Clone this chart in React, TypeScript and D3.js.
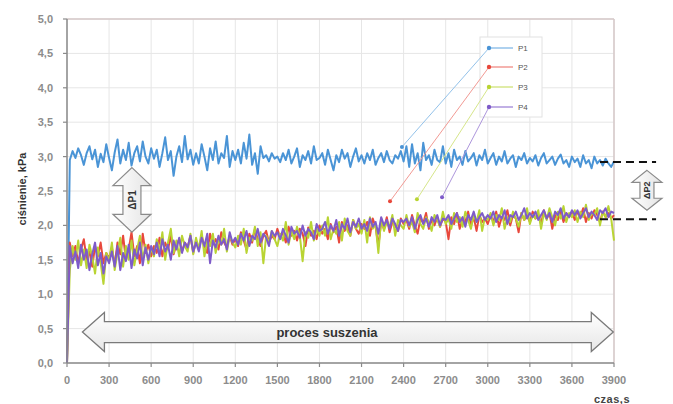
import React from "react";
import * as d3 from "d3";

const STEP = 20; // seconds between samples
const xTicks = [0, 300, 600, 900, 1200, 1500, 1800, 2100, 2400, 2700, 3000, 3300, 3600, 3900];
const yTicks = [0, 0.5, 1, 1.5, 2, 2.5, 3, 3.5, 4, 4.5, 5];
const seriesNames = ["P1", "P2", "P3", "P4"];
const seriesColors = ["#4a94d6", "#e8483c", "#b9d433", "#7e5bc9"];
const leaderColors = ["#93c2ea", "#f29a94", "#d6e68a", "#ad96dc"];

const P1 = [0,
  2.95, 3.08, 2.98, 3.12, 3.02, 2.88, 3.05, 3.15, 2.96, 3.1, 2.85, 3.04, 2.92, 3.18, 2.98,
  2.8, 3.06, 3.25, 2.9, 3.1, 2.95, 3.2, 2.87, 3.05, 3.15, 2.93, 3.22, 3.0, 2.9, 3.12,
  2.97, 3.1, 2.85, 3.05, 3.28, 2.95, 3.08, 2.72, 3.0, 3.15, 2.92, 3.3, 2.96, 3.1, 2.88,
  3.05, 2.9, 3.18, 3.0, 2.8, 3.12, 2.95, 3.22, 2.9, 3.05, 2.98, 3.3, 2.85, 3.08, 2.95,
  3.1, 2.9, 3.2, 2.97, 3.32, 2.88, 3.05, 2.75, 3.15, 2.98, 3.02, 2.93, 3.05, 2.97, 3.0,
  2.92, 3.05, 2.95, 3.1, 2.9, 3.0, 3.12, 2.85, 3.02, 2.95, 3.08, 2.9, 3.15, 2.95, 2.98,
  3.05, 2.88, 3.1, 2.95, 2.8, 3.02, 2.92, 3.1, 2.97, 3.05, 2.85, 3.0, 3.12, 2.93, 3.02,
  2.9, 3.05, 2.95, 3.1, 2.88, 2.98, 3.05, 2.92, 3.08, 2.95, 2.9, 3.02, 2.97, 3.08, 2.93,
  3.15, 2.85, 3.18, 2.9, 3.05, 2.8, 3.2, 2.95, 3.02, 2.88, 3.1, 2.95, 2.92, 3.15, 2.9,
  3.05, 2.85, 3.1, 2.95, 3.0, 2.88, 3.08, 2.93, 2.98, 3.05, 2.87, 3.02, 2.95, 3.1, 2.9,
  2.98, 3.05, 2.88, 3.0, 2.93, 3.08, 2.9, 2.97, 3.02, 2.85, 3.0, 2.95, 3.05, 2.9, 2.98,
  2.93, 3.02, 2.87, 2.98, 3.05, 2.9, 2.95, 3.0, 2.88, 2.97, 3.03, 2.9, 2.95, 2.85, 3.0,
  2.92, 2.97, 2.85, 3.02, 2.9, 2.95, 2.83, 3.0, 2.9, 2.95, 2.87, 2.97, 2.9, 2.85, 2.93];

const P2 = [0,
  1.75, 1.55, 1.7, 1.45, 1.65, 1.8, 1.5, 1.62, 1.4, 1.7, 1.55, 1.75, 1.45, 1.6, 1.52,
  1.68, 1.42, 1.75, 1.58, 1.85, 1.5, 1.65, 1.9, 1.55, 1.7, 1.45, 1.88, 1.6, 1.72, 1.55,
  1.7, 1.6, 1.82, 1.55, 1.75, 1.65, 1.85, 1.58, 1.72, 1.8, 1.62, 1.75, 1.68, 1.85, 1.6,
  1.78, 1.65, 1.85, 1.7, 1.6, 1.88, 1.72, 1.8, 1.65, 1.9, 1.75, 1.68, 1.85, 1.72, 1.8,
  1.7, 1.9, 1.78, 1.65, 1.88, 1.75, 1.95, 1.8, 1.7, 1.85, 1.92, 1.75, 1.85, 1.8, 1.95,
  1.82, 1.9, 1.75, 1.98, 1.85, 1.92, 1.78, 1.95, 1.88, 1.7, 1.97, 1.85, 1.92, 1.8, 2.0,
  1.88, 1.95, 1.8, 2.02, 1.9, 1.98, 1.75, 2.05, 1.92, 2.0, 1.85, 2.08, 1.95, 1.88, 2.02,
  1.95, 2.05, 1.85, 2.1, 1.98, 1.7, 2.05, 1.95, 2.12, 1.9, 2.05, 2.0, 1.92, 2.1, 2.02,
  2.08, 1.95, 2.15, 2.0, 1.88, 2.1, 2.03, 2.18, 1.95, 2.08, 2.0, 2.12, 1.98, 2.1, 2.05,
  1.8, 2.12, 2.02, 2.18, 1.95, 2.1, 2.05, 2.2, 2.0, 2.12, 1.92, 2.15, 2.05, 2.1, 2.02,
  2.15, 2.05, 2.2, 1.98, 2.12, 2.08, 2.22, 2.0, 2.15, 2.1, 1.9, 2.18, 2.08, 2.15, 2.05,
  2.2, 2.1, 2.15, 2.02, 2.22, 2.1, 2.18, 1.95, 2.15, 2.08, 2.2, 2.05, 2.18, 2.12, 2.2,
  2.08, 2.2, 2.12, 2.25, 2.05, 2.18, 2.1, 2.22, 2.15, 2.05, 2.2, 2.12, 2.18, 2.1, 2.15];

const P3 = [0,
  1.35, 1.7, 1.5, 1.78, 1.42, 1.65, 1.38, 1.72, 1.55, 1.3, 1.68, 1.45, 1.15, 1.6, 1.48,
  1.75, 1.35, 1.6, 1.82, 1.4, 1.7, 1.5, 1.78, 1.42, 1.65, 1.85, 1.5, 1.72, 1.45, 1.68,
  1.55, 1.8, 1.62, 1.9, 1.5, 1.75, 1.95, 1.6, 1.78, 1.55, 1.85, 1.7, 1.62, 1.88, 1.58,
  1.82, 1.65, 1.92, 1.55, 1.78, 1.7, 1.88, 1.6, 1.8, 1.72, 1.95, 1.62, 1.85, 1.75, 1.68,
  1.85, 1.72, 1.95, 1.6, 1.82, 1.78, 1.98, 1.7, 1.9, 1.45, 1.85, 1.75, 1.92, 1.8, 1.7,
  1.88, 1.78, 2.05, 1.72, 1.92, 1.8, 1.98, 1.85, 1.48, 1.9, 1.82, 2.05, 1.78, 1.95, 1.85,
  2.0, 1.85, 2.12, 1.8, 1.95, 1.88, 2.05, 1.78, 2.1, 1.92, 1.85, 2.08, 1.95, 2.02, 1.88,
  2.08, 1.75, 2.12, 1.95, 2.02, 1.6, 2.1, 1.92, 2.05, 1.98, 2.15, 1.85, 2.08, 2.0, 1.95,
  2.15, 1.98, 2.05, 1.9, 2.18, 2.02, 1.95, 2.12, 2.05, 1.92, 2.15, 2.08, 1.98, 2.2, 2.02,
  2.1, 1.95, 2.18, 2.05, 2.12, 1.98, 2.2, 2.08, 1.95, 2.15, 2.05, 2.22, 1.92, 2.12, 2.08,
  2.18, 2.0, 2.15, 2.08, 2.25, 1.95, 2.12, 2.05, 2.2, 2.1, 1.98, 2.18, 2.08, 2.25, 2.02,
  2.15, 2.1, 2.22, 1.95, 2.18, 2.08, 2.25, 2.12, 2.0, 2.2, 2.1, 2.28, 2.05, 2.18, 2.12,
  2.22, 2.05, 2.2, 2.12, 2.3, 2.08, 2.18, 2.15, 2.25, 2.0, 2.2, 2.12, 2.28, 2.1, 1.78];

const P4 = [0,
  1.7, 1.45, 1.62, 1.38, 1.72, 1.5, 1.65, 1.35, 1.58, 1.75, 1.42, 1.6, 1.3, 1.55, 1.45,
  1.62, 1.4, 1.7, 1.35, 1.6, 1.48, 1.72, 1.38, 1.65, 1.52, 1.75, 1.42, 1.68, 1.5, 1.7,
  1.58, 1.75, 1.55, 1.8, 1.62, 1.72, 1.5, 1.78, 1.65, 1.82, 1.6, 1.75, 1.68, 1.85, 1.62,
  1.75, 1.62, 1.82, 1.7, 1.88, 1.45, 1.78, 1.68, 1.85, 1.72, 1.8, 1.65, 1.9, 1.75, 1.82,
  1.72, 1.88, 1.78, 1.92, 1.7, 1.85, 1.8, 1.95, 1.75, 1.88, 1.82, 1.7, 1.92, 1.85, 1.9,
  1.8, 1.95, 1.85, 1.75, 1.98, 1.88, 1.92, 1.82, 2.0, 1.85, 1.95, 1.9, 1.8, 2.02, 1.92,
  1.95, 2.05, 1.88, 2.0, 1.92, 2.08, 1.85, 2.02, 1.95, 2.1, 1.9, 2.05, 1.98, 2.1, 1.95,
  2.02, 1.92, 2.1, 1.98, 2.05, 1.88, 2.12, 2.0, 2.08, 1.95, 2.1, 2.02, 1.92, 2.08, 2.05,
  2.1, 2.0, 2.12, 1.95, 2.08, 2.15, 2.02, 2.1, 1.98, 2.12, 2.05, 2.15, 2.0, 2.1, 2.08,
  2.15, 2.02, 2.1, 2.18, 2.05, 2.12, 1.98, 2.15, 2.08, 2.2, 2.05, 2.12, 2.18, 2.08, 2.15,
  2.1, 2.2, 2.05, 2.15, 2.1, 2.22, 2.02, 2.15, 2.12, 2.2, 2.08, 2.15, 2.25, 2.1, 2.18,
  2.12, 2.2, 2.08, 2.15, 2.22, 2.1, 2.18, 2.05, 2.2, 2.15, 2.25, 2.1, 2.18, 2.12, 2.22,
  2.15, 2.22, 2.1, 2.18, 2.25, 2.12, 2.2, 2.15, 2.08, 2.22, 2.18, 2.25, 2.12, 2.2, 2.18];

const series = [P1, P2, P3, P4];

// leader-line endpoints (time, value) for the legend annotations
const leaderT = [2388, 2303, 2495, 2674];
const leaderV = [3.14, 2.35, 2.38, 2.41];

// ΔP annotations (data coordinates)
const dp1 = { t: 463, top: 2.84, bottom: 1.9, label: "ΔP1" };
const dp2 = { t: 4135, top: 2.8, bottom: 2.22, label: "ΔP2" };
const dashLevels = [2.92, 2.09];
const dashRange = [3800, 4200];
const processRange = [110, 3895];
const processV = 0.45;

const W = 673, H = 404;
const M = { left: 67, top: 19, right: 614, bottom: 363 };

function vArrow(cx: number, y1: number, y2: number, hw: number, sw: number, hl: number) {
  return `M${cx},${y1} L${cx + hw / 2},${y1 + hl} L${cx + sw / 2},${y1 + hl} L${cx + sw / 2},${y2 - hl} L${cx + hw / 2},${y2 - hl} L${cx},${y2} L${cx - hw / 2},${y2 - hl} L${cx - sw / 2},${y2 - hl} L${cx - sw / 2},${y1 + hl} L${cx - hw / 2},${y1 + hl} Z`;
}
function hArrow(x1: number, x2: number, cy: number, hh: number, sh: number, hl: number) {
  return `M${x1},${cy} L${x1 + hl},${cy - hh / 2} L${x1 + hl},${cy - sh / 2} L${x2 - hl},${cy - sh / 2} L${x2 - hl},${cy - hh / 2} L${x2},${cy} L${x2 - hl},${cy + hh / 2} L${x2 - hl},${cy + sh / 2} L${x1 + hl},${cy + sh / 2} L${x1 + hl},${cy + hh / 2} Z`;
}

export default function App() {
  const x = d3.scaleLinear().domain([0, 3900]).range([M.left, M.right]);
  const y = d3.scaleLinear().domain([0, 5]).range([M.bottom, M.top]);
  const line = d3
    .line<number>()
    .x((_, i) => x(i * STEP))
    .y((d) => y(d));
  const fmt = (v: number) => v.toFixed(1).replace(".", ",");
  const font = "'Liberation Sans', Arial, sans-serif";

  const legX = 489;
  const legY = [48, 67, 87, 107];

  return (
    <svg width={W} height={H} style={{ position: "absolute", left: 0, top: 0, background: "#fff" }} fontFamily={font}>
      <defs>
        <linearGradient id="arrG" x1="0" y1="0" x2="0" y2="1">
          <stop offset="0" stopColor="#ffffff" />
          <stop offset="1" stopColor="#e6e6e6" />
        </linearGradient>
        <linearGradient id="arrV" x1="0" y1="0" x2="1" y2="0">
          <stop offset="0" stopColor="#ffffff" />
          <stop offset="1" stopColor="#e4e4e4" />
        </linearGradient>
      </defs>
      <rect width={W} height={H} fill="#fff" />
      {/* grid */}
      {xTicks.map((t) => (
        <line key={"gx" + t} x1={x(t)} x2={x(t)} y1={M.top} y2={M.bottom} stroke="#e6e6e6" />
      ))}
      {yTicks.map((v) => (
        <line key={"gy" + v} x1={M.left} x2={M.right} y1={y(v)} y2={y(v)} stroke="#e6e6e6" />
      ))}
      {/* border */}
      <line x1={M.left} x2={M.right} y1={M.top} y2={M.top} stroke="#d6c8c8" strokeWidth={1.5} />
      <line x1={M.right} x2={M.right} y1={M.top} y2={M.bottom} stroke="#d6c8c8" strokeWidth={1.5} />

      {/* series */}
      {series.map((s, i) => (
        <path key={"s" + i} d={line(s) || ""} fill="none" stroke={seriesColors[i]} strokeWidth={2} strokeLinejoin="round" />
      ))}

      {/* axes */}
      <line x1={M.left} x2={M.left} y1={M.top} y2={M.bottom} stroke="#8a8a8a" strokeWidth={1.5} />
      <line x1={M.left} x2={M.right} y1={M.bottom} y2={M.bottom} stroke="#8a8a8a" strokeWidth={1.5} />
      {yTicks.map((v) => (
        <g key={"yt" + v}>
          <line x1={M.left - 4} x2={M.left} y1={y(v)} y2={y(v)} stroke="#8a8a8a" strokeWidth={1.2} />
          <text x={53} y={y(v) + 4} textAnchor="end" fontSize={11} fontWeight="bold" fill="#8c8c8c">
            {fmt(v)}
          </text>
        </g>
      ))}
      {xTicks.map((t) => (
        <g key={"xt" + t}>
          <line x1={x(t)} x2={x(t)} y1={M.bottom} y2={M.bottom + 4} stroke="#8a8a8a" strokeWidth={1.2} />
          <text x={x(t)} y={384} textAnchor="middle" fontSize={11} fontWeight="bold" fill="#8c8c8c">
            {t}
          </text>
        </g>
      ))}
      <text transform={`translate(26,189) rotate(-90)`} textAnchor="middle" fontSize={11} fontWeight="bold" fill="#333">
        ciśnienie, kPa
      </text>
      <text x={612} y={403} textAnchor="middle" fontSize={11} fontWeight="bold" fill="#444" letterSpacing={0.5}>
        czas,s
      </text>

      {/* legend */}
      <rect x={480} y={37} width={62} height={80} fill="#fff" stroke="#e2e2e2" />
      {seriesNames.map((n, i) => (
        <g key={"lg" + n}>
          <line x1={legX} x2={x(leaderT[i])} y1={legY[i]} y2={y(leaderV[i])} stroke={leaderColors[i]} strokeWidth={1} />
          <circle cx={x(leaderT[i])} cy={y(leaderV[i])} r={2} fill={seriesColors[i]} />
          <line x1={legX} x2={513} y1={legY[i]} y2={legY[i]} stroke={leaderColors[i]} strokeWidth={1.5} />
          <circle cx={legX} cy={legY[i]} r={2.2} fill={seriesColors[i]} />
          <text x={518} y={legY[i] + 3} fontSize={8} fill="#555">
            {n}
          </text>
        </g>
      ))}

      {/* ΔP1 arrow */}
      <path d={vArrow(x(dp1.t), y(dp1.top), y(dp1.bottom), 38, 18, 18)} fill="url(#arrV)" stroke="#8a8a8a" strokeWidth={1.2} />
      <text transform={`translate(${x(dp1.t) + 4},${(y(dp1.top) + y(dp1.bottom)) / 2}) rotate(-90)`} textAnchor="middle" fontSize={10} fontWeight="bold" fill="#333">
        {dp1.label}
      </text>

      {/* ΔP2 dashed levels and arrow */}
      {dashLevels.map((v) => (
        <line key={"dl" + v} x1={x(dashRange[0])} x2={x(dashRange[1])} y1={y(v)} y2={y(v)} stroke="#111" strokeWidth={2} strokeDasharray="8,5" />
      ))}
      <path d={vArrow(x(dp2.t), y(dp2.top), y(dp2.bottom), 30, 14, 12)} fill="url(#arrV)" stroke="#8a8a8a" strokeWidth={1.2} />
      <text transform={`translate(${x(dp2.t) + 3},${(y(dp2.top) + y(dp2.bottom)) / 2}) rotate(-90)`} textAnchor="middle" fontSize={9} fontWeight="bold" fill="#333">
        {dp2.label}
      </text>

      {/* proces suszenia */}
      <path d={hArrow(x(processRange[0]), x(processRange[1]), y(processV), 39, 21, 22)} fill="url(#arrG)" stroke="#7a7a7a" strokeWidth={1.3} />
      <text x={327} y={y(processV) + 4.5} textAnchor="middle" fontSize={13} fontWeight="bold" fill="#333">
        proces suszenia
      </text>
    </svg>
  );
}
